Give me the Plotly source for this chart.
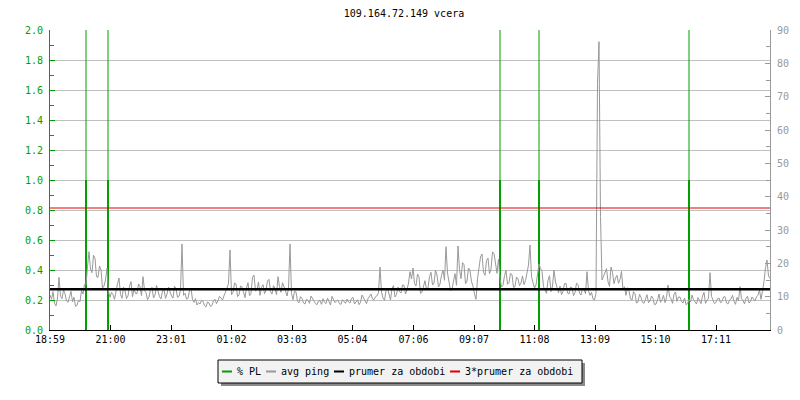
import pandas as pd
import plotly.graph_objects as go

# 24h window, one ping sample every 3 minutes, one row per hour
start = "2024-01-01 18:59"
end = "2024-01-02 18:59"

ping = [
    10.5, 9.2, 11.5, 8.0, 7.2, 9.6, 15.8, 10.1, 9.4, 12.0, 10.9, 8.7, 8.3, 10.4, 11.6, 8.5, 9.8, 7.1, 7.4, 8.9,
    8.5, 11.9, 10.8, 13.7, 13.5, 19.0, 23.5, 18.3, 17.2, 22.4, 21.5, 16.0, 15.8, 19.2, 18.0, 12.6, 13.2, 15.0, 18.5, 11.5,
    9.8, 11.3, 10.6, 9.2, 12.0, 13.9, 15.6, 10.7, 9.5, 12.9, 11.8, 9.4, 10.2, 13.1, 14.5, 10.0, 12.3, 11.0, 10.9, 13.8,
    13.0, 10.3, 16.0, 11.9, 11.2, 9.1, 9.9, 12.2, 12.8, 9.6, 10.5, 13.4, 11.6, 10.0, 9.3, 11.7, 12.2, 9.5, 10.8, 12.9,
    11.5, 10.2, 9.6, 13.1, 12.4, 9.8, 10.1, 12.0, 25.8, 10.4, 11.0, 9.3, 9.5, 11.8, 12.6, 9.1, 8.3, 9.4, 7.5, 8.2,
    7.8, 8.9, 8.6, 7.3, 6.9, 8.4, 8.1, 7.0, 7.4, 8.8, 9.2, 7.9, 8.8, 10.1, 9.6, 9.0, 10.3, 11.2, 12.5, 14.0,
    24.0, 10.6, 11.2, 14.1, 13.8, 10.0, 10.5, 13.2, 12.9, 11.4, 9.7, 12.6, 14.2, 10.3, 11.0, 15.8, 16.5, 11.7, 12.1, 14.4,
    10.4, 12.8, 13.6, 10.9, 11.9, 14.7, 15.2, 11.5, 10.8, 13.3, 12.5, 10.6, 16.0, 13.0, 11.3, 14.2, 13.1, 11.8, 10.2, 12.4,
    25.8, 10.9, 9.1, 11.6, 11.4, 8.6, 8.2, 10.0, 9.5, 8.1, 7.8, 9.2, 8.9, 8.0, 10.2, 9.3, 8.4, 7.9, 7.6, 8.7,
    8.8, 7.7, 9.4, 8.3, 7.9, 9.6, 8.5, 7.5, 10.1, 9.0, 8.2, 8.7, 9.0, 7.9, 7.7, 9.1, 8.6, 8.0, 9.3, 8.4,
    8.1, 9.5, 9.8, 7.8, 8.4, 9.1, 7.6, 8.3, 10.5, 9.6, 8.7, 7.9, 9.4, 10.2, 10.8, 9.3, 9.1, 10.0, 10.3, 11.2,
    18.9, 11.4, 9.6, 8.9, 11.8, 12.6, 10.2, 9.0, 12.5, 13.3, 9.9, 10.7, 12.9, 11.5, 11.1, 13.5, 13.4, 10.8, 12.0, 14.1,
    17.5, 15.3, 18.6, 14.0, 13.2, 16.8, 15.9, 11.0, 11.4, 13.6, 14.8, 12.2, 12.6, 16.1, 17.3, 13.5, 14.1, 17.9, 16.5, 12.9,
    13.8, 16.4, 18.0, 14.9, 25.0, 17.1, 14.6, 11.8, 12.3, 15.2, 16.9, 13.4, 25.2, 18.1, 15.4, 20.2, 19.6, 13.9, 14.7, 18.6,
    17.8, 14.5, 13.1, 10.8, 9.2, 15.4, 19.5, 21.9, 22.8, 17.3, 16.4, 20.8, 21.6, 16.9, 18.2, 23.4, 23.0, 19.1, 17.0, 21.2,
    15.5, 12.9, 13.4, 16.3, 17.9, 13.7, 14.2, 17.0, 16.6, 12.8, 13.0, 15.9, 15.3, 13.3, 14.1, 16.2, 13.6, 14.8, 16.8, 19.5,
    25.5, 16.0, 14.2, 12.6, 13.5, 17.4, 19.8, 18.5, 17.6, 13.0, 12.1, 11.0, 14.9, 16.3, 11.5, 13.2, 18.0, 14.4, 12.8, 11.2,
    13.2, 10.6, 11.6, 13.9, 14.0, 11.1, 10.8, 12.9, 12.7, 10.3, 11.2, 14.1, 13.6, 11.0, 10.5, 12.4, 12.2, 10.9, 17.5, 11.8,
    10.4, 11.3, 9.3, 9.0, 11.0, 74.0, 86.5, 34.0, 15.0, 16.2, 17.8, 18.4, 14.5, 13.1, 18.9, 17.2, 13.9, 15.6, 16.4, 14.0,
    15.2, 17.6, 12.1, 13.0, 10.4, 12.7, 11.8, 9.3, 9.0, 11.5, 10.9, 8.1, 8.4, 10.7, 9.8, 8.3, 8.0, 9.5, 10.6, 8.2,
    8.7, 10.2, 9.5, 7.6, 7.8, 9.0, 10.8, 8.3, 9.1, 10.4, 8.2, 9.7, 13.5, 10.1, 9.4, 8.0, 10.7, 11.4, 8.6, 9.9,
    9.9, 8.5, 8.1, 9.6, 7.6, 7.9, 9.2, 8.4, 10.5, 9.1, 8.4, 7.8, 9.7, 8.9, 7.9, 10.2, 11.3, 8.0, 8.8, 9.6,
    17.2, 10.1, 9.0, 7.9, 8.3, 9.4, 9.6, 8.2, 8.5, 9.9, 10.0, 8.1, 7.8, 9.0, 9.3, 10.4, 8.6, 7.7, 9.8, 8.7,
    13.0, 9.4, 8.9, 7.8, 9.5, 10.1, 8.1, 8.6, 9.9, 9.2, 8.7, 10.0, 10.4, 12.0, 9.2, 11.8, 14.5, 18.7, 21.0, 16.2,
    15.5,
]

# packet loss events
pl_times = ["2024-01-01 20:11", "2024-01-01 20:55", "2024-01-02 09:59",
            "2024-01-02 11:17", "2024-01-02 16:17"]
pl_values = [1.0, 1.0, 1.0, 1.0, 1.0]
pl_peaks = [2.0, 2.0, 2.0, 2.0, 2.0]

mean_ping = 12.2

tick_labels = ["18:59", "21:00", "23:01", "01:02", "03:03", "05:04",
               "07:06", "09:07", "11:08", "13:09", "15:10", "17:11"]

GREEN = "#00a000"
GRAY = "#999999"
RED = "#e00000"
FONT = "DejaVu Sans Mono"

times = pd.date_range(start, periods=len(ping), freq="3min")

# tick positions from the labels (roll over midnight)
tickvals = []
day = pd.Timestamp(start).normalize()
prev = None
for lab in tick_labels:
    t = day + pd.Timedelta(hours=int(lab[:2]), minutes=int(lab[3:]))
    if prev is not None and t < prev:
        day += pd.Timedelta(days=1)
        t += pd.Timedelta(days=1)
    tickvals.append(t)
    prev = t


def spikes(xs, ys):
    sx, sy = [], []
    for x, y in zip(xs, ys):
        sx += [x, x, None]
        sy += [0, y, None]
    return sx, sy


fig = go.Figure()

px, py = spikes(pl_times, pl_peaks)
fig.add_trace(go.Scatter(x=px, y=py, mode="lines", line=dict(color=GREEN, width=1),
                         showlegend=False, hoverinfo="skip"))
px, py = spikes(pl_times, pl_values)
fig.add_trace(go.Scatter(x=px, y=py, mode="lines", line=dict(color=GREEN, width=2),
                         name="% PL"))

fig.add_trace(go.Scatter(x=times, y=ping, mode="lines", line=dict(color=GRAY, width=1),
                         name="avg ping", yaxis="y2"))

fig.add_trace(go.Scatter(x=[start, end], y=[mean_ping, mean_ping], mode="lines",
                         line=dict(color="black", width=2.5),
                         name="prumer za obdobi", yaxis="y2"))
fig.add_trace(go.Scatter(x=[start, end], y=[3 * mean_ping, 3 * mean_ping], mode="lines",
                         line=dict(color=RED, width=1),
                         name="3*prumer za obdobi", yaxis="y2"))

# rrdtool-style legend box below the plot (page pixel -> paper helpers)
W, L, T, H = 720, 50, 30, 300
def pxx(v): return (v - L) / W
def pxy(v): return (T + H - v) / H

shapes = [
    dict(type="rect", xref="paper", yref="paper", x0=pxx(221), x1=pxx(585),
         y0=pxy(363), y1=pxy(386), fillcolor="#8a8a8a", line=dict(width=0), layer="above"),
    dict(type="rect", xref="paper", yref="paper", x0=pxx(218), x1=pxx(582),
         y0=pxy(360), y1=pxy(383), fillcolor="#f2f2f2", line=dict(color="black", width=1),
         layer="above"),
]
annotations = []
x = 222
for tr in fig.data:
    if tr.showlegend is False:
        continue
    shapes.append(dict(type="line", xref="paper", yref="paper", x0=pxx(x), x1=pxx(x + 10),
                       y0=pxy(371.5), y1=pxy(371.5), line=dict(color=tr.line.color, width=2),
                       layer="above"))
    annotations.append(dict(text=tr.name, xref="paper", yref="paper", x=pxx(x + 13), y=pxy(371.5),
                            xanchor="left", yanchor="middle", showarrow=False,
                            font=dict(family=FONT, size=10, color="black")))
    x += 14 + 6 * len(tr.name) + 6

# the page body adds an 8px margin, so the figure is 792x392 and margins shift by 8
fig.update_layout(
    width=792, height=392,
    margin=dict(l=42, r=30, t=22, b=70, autoexpand=False),
    paper_bgcolor="white", plot_bgcolor="white",
    font=dict(family=FONT, size=10, color="black"),
    title=dict(text="109.164.72.149 vcera", x=0.5, xanchor="center",
               y=0.987, yanchor="middle", font=dict(family=FONT, size=10)),
    xaxis=dict(
        type="date", range=[start, end],
        tickvals=tickvals, ticktext=tick_labels,
        ticks="inside", ticklen=5, tickcolor="black",
        showline=True, linecolor="black", linewidth=1,
        showgrid=False, zeroline=False, automargin=False,
        ticklabelstandoff=0,
    ),
    yaxis=dict(
        range=[0, 2], dtick=0.2, tickformat=".1f",
        ticks="inside", ticklen=5, tickcolor=GREEN,
        minor=dict(ticks="inside", dtick=0.1, ticklen=4, tickcolor=GREEN, showgrid=False),
        showline=True, linecolor=GREEN, linewidth=1,
        tickfont=dict(color=GREEN, family=FONT, size=10),
        gridcolor="#c0c0c0", gridwidth=1, zeroline=False, automargin=False,
        ticklabelstandoff=4,
    ),
    yaxis2=dict(
        range=[0, 90], dtick=10, overlaying="y", side="right",
        ticks="inside", ticklen=5, tickcolor=GRAY,
        minor=dict(ticks="inside", dtick=5, ticklen=4, tickcolor=GRAY, showgrid=False),
        showline=True, linecolor=GRAY, linewidth=1,
        tickfont=dict(color=GRAY, family=FONT, size=10),
        showgrid=False, zeroline=False, automargin=False,
        ticklabelstandoff=4,
    ),
    shapes=shapes,
    annotations=annotations,
    showlegend=False,
)

fig.write_html("out.html")
